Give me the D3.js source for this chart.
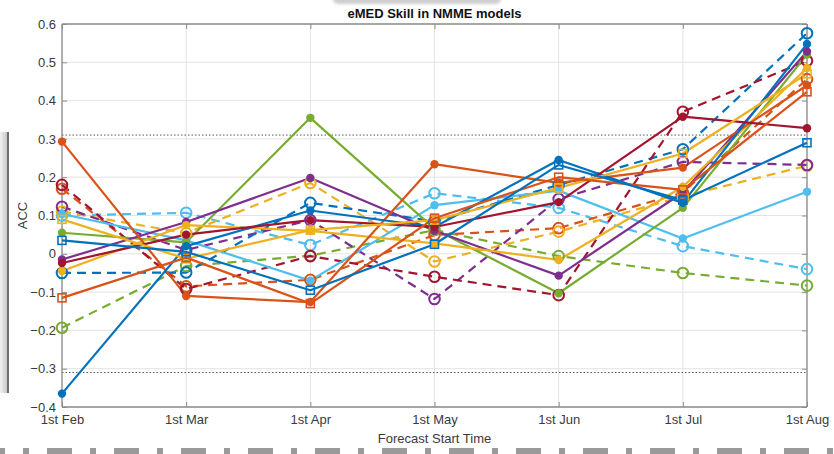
<!DOCTYPE html>
<html>
<head>
<meta charset="utf-8">
<script src="https://cdn.jsdelivr.net/npm/d3@7"></script>
<style>
  body { margin: 0; background: #fff; }
  svg { font-family: "Liberation Sans", Arial, sans-serif; }
</style>
</head>
<body>
<div id="chart"></div>
<script>
// tick labels / categories
var months = ["1st Feb", "1st Mar", "1st Apr", "1st May", "1st Jun", "1st Jul", "1st Aug"];
var yTicks = [-0.4, -0.3, -0.2, -0.1, 0, 0.1, 0.2, 0.3, 0.4, 0.5, 0.6];
var sigLevel = [0.31, -0.31];

// series values, one per start month
var blueDot      = [-0.365, 0.02, 0.113, 0.07, 0.245, 0.133, 0.548];
var blueSquare   = [0.035, 0.005, -0.095, 0.025, 0.232, 0.14, 0.29];
var blueCircle   = [-0.05, -0.049, 0.133, 0.085, 0.18, 0.273, 0.576];
var orangeDot    = [0.293, -0.11, -0.126, 0.234, 0.185, 0.225, 0.44];
var orangeSquare = [-0.115, -0.01, -0.13, 0.093, 0.2, 0.167, 0.423];
var orangeCircle = [0.17, -0.085, -0.068, 0.049, 0.067, 0.16, 0.456];
var yellowDot    = [-0.045, 0.075, 0.06, 0.027, -0.016, 0.175, 0.485];
var yellowSquare = [0.09, -0.013, 0.062, 0.088, 0.172, 0.262, 0.47];
var yellowCircle = [0.11, 0.054, 0.185, -0.02, 0.058, 0.15, 0.23];
var purpleDot    = [-0.015, 0.083, 0.198, 0.06, -0.057, 0.16, 0.528];
var purpleCircle = [0.123, 0.01, 0.088, -0.118, 0.143, 0.24, 0.232];
var greenDot     = [0.055, 0.03, 0.355, 0.065, -0.103, 0.12, 0.52];
var greenCircle  = [-0.193, -0.032, -0.005, 0.062, -0.006, -0.05, -0.083];
var cyanDot      = [0.104, 0.035, -0.07, 0.127, 0.165, 0.04, 0.162];
var cyanCircle   = [0.1, 0.107, 0.023, 0.158, 0.12, 0.02, -0.04];
var redDot       = [-0.024, 0.05, 0.088, 0.07, 0.135, 0.358, 0.328];
var redCircle    = [0.18, -0.092, -0.006, -0.06, -0.108, 0.371, 0.504];

var C = { blue: "#0072BD", orange: "#D95319", yellow: "#EDB120", purple: "#7E2F8E",
          green: "#77AC30", cyan: "#4DBEEE", red: "#A2142F" };

var series = [
  { v: greenCircle,  c: C.green,  m: "o" },
  { v: cyanCircle,   c: C.cyan,   m: "o" },
  { v: orangeCircle, c: C.orange, m: "o" },
  { v: yellowCircle, c: C.yellow, m: "o" },
  { v: purpleCircle, c: C.purple, m: "o" },
  { v: blueCircle,   c: C.blue,   m: "o" },
  { v: redCircle,    c: C.red,    m: "o" },
  { v: cyanDot,      c: C.cyan,   m: "." },
  { v: greenDot,     c: C.green,  m: "." },
  { v: purpleDot,    c: C.purple, m: "." },
  { v: yellowDot,    c: C.yellow, m: "." },
  { v: orangeDot,    c: C.orange, m: "." },
  { v: blueDot,      c: C.blue,   m: "." },
  { v: redDot,       c: C.red,    m: "." },
  { v: yellowSquare, c: C.yellow, m: "s" },
  { v: orangeSquare, c: C.orange, m: "s" },
  { v: blueSquare,   c: C.blue,   m: "s" }
];

const W = 834, H = 454;
const margin = { top: 24, right: 27, bottom: 47, left: 62 };
const width = W - margin.left - margin.right;
const height = H - margin.top - margin.bottom;

const svg = d3.select("#chart").append("svg")
  .attr("width", W).attr("height", H);

// decorations around the screenshot
const shade = svg.append("defs").append("linearGradient").attr("id", "shade");
shade.append("stop").attr("offset", "0%").attr("stop-color", "#f2f2f2");
shade.append("stop").attr("offset", "100%").attr("stop-color", "#c8c8c8");
svg.append("rect").attr("x", 0).attr("y", 132).attr("width", 7).attr("height", 261)
  .attr("fill", "url(#shade)");
svg.append("rect").attr("x", 7).attr("y", 132).attr("width", 2).attr("height", 261)
  .attr("fill", "#6e6e6e");
svg.append("rect").attr("x", 333).attr("y", -6).attr("width", 168).attr("height", 10)
  .attr("rx", 5).attr("fill", "#cfcfcf").attr("filter", "blur(1.5px)");
for (var k = -1; k < 13; k++) {
  svg.append("rect").attr("x", 47 + 67 * k).attr("y", 448).attr("width", 25).attr("height", 6).attr("fill", "#9a9a9a");
  svg.append("rect").attr("x", 23 + 67 * k).attr("y", 448).attr("width", 6).attr("height", 6).attr("fill", "#9a9a9a");
}

const x = d3.scalePoint().domain(months).range([0, width]);
const y = d3.scaleLinear().domain([-0.4, 0.6]).range([height, 0]);

const g = svg.append("g").attr("transform", `translate(${margin.left},${margin.top})`);

// grid
g.append("g").selectAll("line").data(yTicks).enter().append("line")
  .attr("x1", 0).attr("x2", width)
  .attr("y1", d => y(d)).attr("y2", d => y(d))
  .attr("stroke", "#e3e3e3").attr("stroke-width", 1);
g.append("g").selectAll("line").data(months).enter().append("line")
  .attr("y1", 0).attr("y2", height)
  .attr("x1", d => x(d)).attr("x2", d => x(d))
  .attr("stroke", "#e3e3e3").attr("stroke-width", 1);

// significance lines
g.append("g").selectAll("line").data(sigLevel).enter().append("line")
  .attr("x1", 0).attr("x2", width)
  .attr("y1", d => y(d)).attr("y2", d => y(d))
  .attr("stroke", "#555").attr("stroke-width", 1).attr("stroke-dasharray", "1.5,2");

// axes (MATLAB style: ticks inward, box)
const axisColor = "#8c8c8c";
const axLeft = g.append("g").call(d3.axisLeft(y).tickValues(yTicks).tickSizeInner(-5).tickSizeOuter(0)
  .tickPadding(6).tickFormat(d => d3.format("")(+d.toFixed(1))));
const axRight = g.append("g").attr("transform", `translate(${width},0)`)
  .call(d3.axisRight(y).tickValues(yTicks).tickSizeInner(-5).tickSizeOuter(0).tickFormat(""));
const axBottom = g.append("g").attr("transform", `translate(0,${height})`)
  .call(d3.axisBottom(x).tickSizeInner(-5).tickSizeOuter(0).tickPadding(8));
const axTop = g.append("g").call(d3.axisTop(x).tickSizeInner(-5).tickSizeOuter(0).tickFormat(""));
[axLeft, axRight, axBottom, axTop].forEach(a => {
  a.selectAll("path").attr("stroke", axisColor).attr("stroke-width", 1.3);
  a.selectAll("line").attr("stroke", axisColor);
  a.selectAll("text").attr("fill", "#3a3a3a").attr("font-size", 13)
    .attr("font-family", "Liberation Sans, Arial, sans-serif");
});
axLeft.select(".domain").attr("d", `M0,0V${height}`);
axRight.select(".domain").attr("d", `M0,0V${height}`);
axBottom.select(".domain").attr("d", `M0,0H${width}`);
axTop.select(".domain").attr("d", `M0,0H${width}`);

// lines
const line = d3.line().x((d, i) => x(months[i])).y(d => y(d));
series.forEach(s => {
  g.append("path").datum(s.v)
    .attr("d", line)
    .attr("fill", "none")
    .attr("stroke", s.c)
    .attr("stroke-width", 2.2)
    .attr("stroke-linejoin", "round")
    .attr("stroke-dasharray", s.m === "o" ? "9,6" : null);
});

// markers
series.forEach(s => {
  const mk = g.append("g");
  s.v.forEach((d, i) => {
    const px = x(months[i]), py = y(d);
    if (s.m === ".") {
      mk.append("circle").attr("cx", px).attr("cy", py).attr("r", 4.2).attr("fill", s.c);
    } else if (s.m === "o") {
      mk.append("circle").attr("cx", px).attr("cy", py).attr("r", 5.3)
        .attr("fill", "none").attr("stroke", s.c).attr("stroke-width", 2);
    } else {
      mk.append("rect").attr("x", px - 4).attr("y", py - 4).attr("width", 8).attr("height", 8)
        .attr("fill", "none").attr("stroke", s.c).attr("stroke-width", 1.6);
    }
  });
});

// labels
svg.append("text").attr("x", margin.left + width / 2).attr("y", 18)
  .attr("text-anchor", "middle").attr("font-weight", "bold").attr("font-size", 13)
  .attr("fill", "#111").text("eMED Skill in NMME models");
svg.append("text").attr("x", margin.left + width / 2).attr("y", 443)
  .attr("text-anchor", "middle").attr("font-size", 13).attr("fill", "#3a3a3a")
  .text("Forecast Start Time");
svg.append("text").attr("transform", `translate(27,${margin.top + height / 2}) rotate(-90)`)
  .attr("text-anchor", "middle").attr("font-size", 13).attr("fill", "#3a3a3a")
  .text("ACC");
</script>
</body>
</html>
